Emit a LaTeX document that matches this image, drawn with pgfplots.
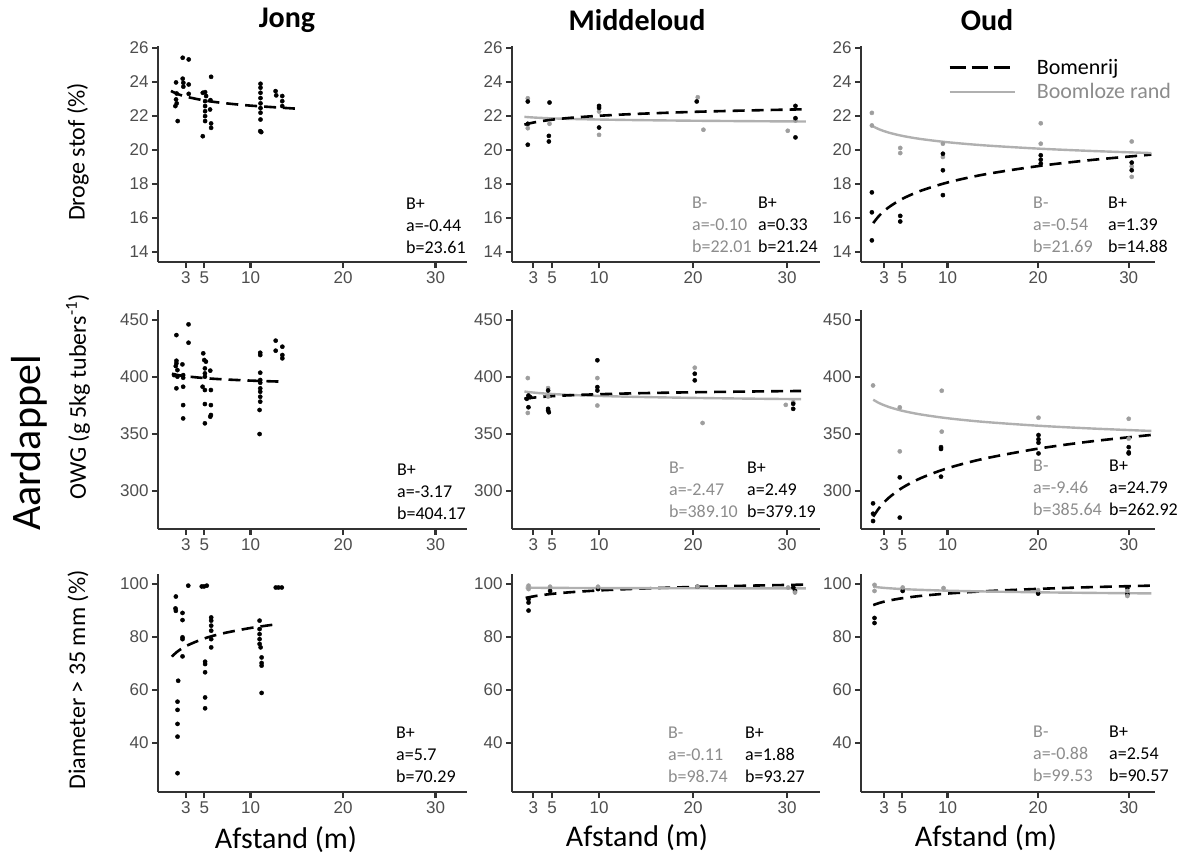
\documentclass[border=0pt]{standalone}
\usepackage{fontspec}
\setmainfont{Carlito}
\newfontfamily\tickfont{Liberation Sans}
\usepackage{pgfplots}
\pgfplotsset{compat=1.18}
\definecolor{axisc}{HTML}{333333}
\definecolor{tickc}{HTML}{4D4D4D}
\definecolor{ptgrey}{HTML}{9E9E9E}
\definecolor{linegrey}{HTML}{B0B0B0}
\definecolor{textgrey}{HTML}{8C8C8C}

\pgfplotsset{
  panel/.style={scale only axis, anchor=south west,
    axis x line*=bottom, axis y line*=left,
    axis line style={line width=1.6pt, color=axisc, -},
    tick style={line width=2.2pt, color=axisc},
    tick align=outside, major tick length=6pt,
    xtick={3,5,10,20,30},
    ticklabel style={font=\tickfont\fontsize{17}{17}\selectfont, text=tickc},
    /pgf/number format/assume math mode=true,
    clip=false},
  row1/.style={height=216pt, ymin=13.41, ymax=26.1, ytick={14,16,...,26}},
  row2/.style={height=219pt, ymin=266.7, ymax=458.8, ytick={300,350,400,450}},
  row3/.style={height=218pt, ymin=21.5, ymax=103.8, ytick={40,60,80,100}},
  colJ/.style={width=309pt, xmin=0, xmax=33.4},
  colM/.style={width=308pt, xmin=0.74, xmax=33.5},
  colO/.style={width=294pt, xmin=0.45, xmax=32.9},
  pts/.style={only marks, mark=*, mark size=2.1pt, black, forget plot},
  gpts/.style={only marks, mark=*, mark size=2.1pt, color=ptgrey, mark options={draw=ptgrey, fill=ptgrey}, forget plot},
  fitB/.style={no marks, smooth, line width=2.6pt, dash pattern=on 12pt off 7pt, black},
  fitG/.style={no marks, smooth, line width=2.4pt, color=linegrey},
  legB/.style={legend image code/.code={\draw[##1, dash pattern=on 16pt off 6pt] (0pt,0pt) -- (65pt,0pt);}},
  legG/.style={legend image code/.code={\draw[##1] (0pt,0pt) -- (65pt,0pt);}},
}

\newcommand{\annfont}{\fontsize{18}{18}\selectfont}
% three-line annotation: x, y of first line, colour, lines
\newcommand{\ann}[6]{%
  \node[anchor=west, inner sep=0pt, text=#3, font=\annfont] at (#1pt,-#2pt) {#4};
  \node[anchor=west, inner sep=0pt, text=#3, font=\annfont] at (#1pt,-#2pt-21.5pt) {#5};
  \node[anchor=west, inner sep=0pt, text=#3, font=\annfont] at (#1pt,-#2pt-43pt) {#6};}

\begin{document}
\begin{tikzpicture}
\useasboundingbox (0pt,0pt) rectangle (1187pt,-856pt);

% ---------------- row 1: Droge stof ----------------
\begin{axis}[panel, row1, colJ, at={(158pt,-262pt)}]
  \addplot[pts] coordinates {(1.95,23.96)(2.02,23.31)(1.95,22.96)(2.02,22.73)(1.88,22.57)(2.13,21.69)
    (2.67,25.41)(3.32,25.31)(2.67,24.18)(2.74,23.94)(2.74,23.71)(3.32,23.84)(3.32,23.29)
    (4.84,23.35)(5.09,23.39)(5.2,23.16)(5.09,22.86)(5.09,22.57)(5.09,22.27)(5.09,21.98)(5.09,21.69)(4.84,20.80)
    (5.74,24.29)(5.67,22.92)(5.63,22.37)(5.74,21.55)(5.74,21.29)
    (11.08,23.88)(11.08,23.65)(11.08,23.35)(11.08,23.04)(11.08,22.73)(11.08,22.45)(11.08,22.18)(11.08,21.78)(11.05,21.10)(11.16,21.04)
    (12.71,23.45)(12.78,23.20)(13.43,23.16)(13.43,22.86)(13.43,22.57)};
  \addplot[fitB] coordinates {(1.4,23.462)(2,23.305)(3,23.127)(5,22.902)(7,22.754)(10,22.597)(14.8,22.424)};
\end{axis}

\begin{axis}[panel, row1, colM, at={(512pt,-262pt)}]
  \addplot[gpts] coordinates {(2.42,23.03)(2.42,21.27)(4.73,21.53)(10,22.25)(10,20.88)(20.5,23.09)(21.1,21.18)(30.07,21.12)(30.89,21.72)};
  \addplot[pts] coordinates {(2.42,22.84)(2.42,21.53)(2.42,20.30)(4.73,22.78)(4.66,20.82)(4.66,20.49)
    (10,22.58)(10,22.46)(10,21.31)(20.39,22.84)(30.89,22.58)(30.89,21.86)(30.89,20.73)};
  \addplot[fitG] coordinates {(2.06,21.938)(2.5,21.918)(3.5,21.885)(5,21.849)(7,21.815)(10,21.780)(14,21.746)(20,21.710)(26,21.684)(32,21.663)};
  \addplot[fitB] coordinates {(2.06,21.479)(2.5,21.542)(3.5,21.653)(5,21.771)(7,21.882)(10,22.000)(14,22.111)(20,22.229)(26,22.315)(32,22.384)};
\end{axis}

\begin{axis}[panel, row1, colO, at={(861pt,-262pt)},
  legend style={at={(axis description cs:0.296,0.95)}, anchor=north west, draw=none, fill=none,
    font=\fontsize{22}{22}\selectfont, row sep=4pt, inner sep=0pt},
  legend cell align=left]
  \addplot[gpts] coordinates {(1.65,22.17)(1.65,21.43)(4.78,20.11)(4.78,19.81)(9.49,20.36)(9.49,19.58)
    (20.29,21.56)(20.29,20.36)(30.33,20.49)(30.33,18.41)(30.33,19.03)};
  \addplot[pts] coordinates {(1.65,17.50)(1.65,16.33)(1.65,14.68)(4.78,16.12)(4.78,15.79)
    (9.49,19.77)(9.49,18.80)(9.49,17.34)(20.29,19.68)(20.29,19.42)(20.29,19.19)(30.33,19.25)(30.33,18.80)};
  \addplot[fitB, legB] coordinates {(1.8,15.697)(2.5,16.154)(3.5,16.621)(5,17.117)(7,17.585)(10,18.081)(14,18.548)(20,19.044)(26,19.409)(32.5,19.719)};
  \addlegendentry{\hspace*{19pt}Bomenrij}
  \addplot[fitG, legG] coordinates {(1.8,21.373)(2.5,21.195)(3.5,21.013)(5,20.821)(7,20.639)(10,20.447)(14,20.265)(20,20.072)(26,19.931)(32.5,19.810)};
  \addlegendentry{\hspace*{19pt}\textcolor{textgrey}{Boomloze rand}}
\end{axis}

% ---------------- row 2: OWG ----------------
\begin{axis}[panel, row2, colJ, at={(158pt,-529pt)}]
  \addplot[pts] coordinates {(1.99,436.8)(3.30,446.2)(3.30,430.1)(1.99,414.3)(1.99,412.0)(1.92,409.6)(2.10,406.1)(1.74,401.7)(2.10,400.3)
    (2.64,411.1)(2.72,401.7)(2.72,399.4)(1.99,390.1)(2.72,391.5)(2.72,375.4)(2.72,363.7)
    (4.89,420.8)(5.0,414.9)(5.18,413.5)(5.07,407.6)(5.07,403.2)(5.07,400.3)(5.65,405.6)(4.82,391.5)(5.07,388.6)(5.72,388.6)
    (5.07,376.3)(5.72,375.4)(5.65,365.2)(5.72,366.7)(5.07,359.4)
    (11.05,421.3)(11.05,419.3)(11.05,403.8)(11.05,397.4)(11.05,395.0)(11.05,390.1)(11.05,387.1)(11.05,382.7)(11.05,378.4)(10.98,371.1)(10.98,350.0)
    (12.72,431.9)(12.72,423.1)(13.44,426.6)(13.44,419.3)(13.44,416.4)};
  \addplot[fitB] coordinates {(1.5,402.88)(2,401.97)(3,400.69)(5,399.07)(7,398.00)(10,396.87)(13.4,395.94)};
\end{axis}

\begin{axis}[panel, row2, colM, at={(512pt,-529pt)}]
  \addplot[gpts] coordinates {(2.42,399.1)(2.42,368.5)(4.58,390.3)(4.58,382.9)(9.82,399.1)(9.82,375.0)(20.18,408.2)(21.01,359.7)(29.86,375.6)(30.65,377.9)};
  \addplot[pts] coordinates {(2.49,383.8)(2.31,380.9)(2.67,382.4)(2.49,373.5)(4.58,370.6)(4.66,369.1)(4.58,372.1)(4.58,388.2)
    (9.82,414.7)(9.82,391.2)(9.82,388.2)(20.18,402.9)(20.18,397.1)(30.65,376.5)(30.65,372.1)};
  \addplot[fitG] coordinates {(2.06,387.31)(2.5,386.84)(3.5,386.01)(5,385.12)(7,384.29)(10,383.41)(14,382.58)(20,381.70)(26,381.05)(31.5,380.58)};
  \addplot[fitB] coordinates {(2.06,380.99)(2.5,381.47)(3.5,382.31)(5,383.20)(7,384.04)(10,384.92)(14,385.76)(20,386.65)(26,387.30)(31.5,387.78)};
\end{axis}

\begin{axis}[panel, row2, colO, at={(861pt,-529pt)}]
  \addplot[gpts] coordinates {(1.78,392.6)(4.73,373.4)(4.73,334.8)(9.36,388.0)(9.36,352.1)(20.04,364.3)(30.0,363.4)(30.0,346.0)};
  \addplot[pts] coordinates {(1.78,289.2)(1.78,280.1)(1.78,273.7)(4.73,312.0)(4.73,276.7)(9.28,338.5)(9.28,336.9)(9.28,312.6)
    (20.04,349.1)(20.04,345.4)(20.04,342.4)(20.04,333.0)(30.0,338.5)(30.0,333.9)(30.0,333.0)};
  \addplot[fitG] coordinates {(1.8,380.08)(2.5,376.97)(3.5,373.79)(5,370.41)(7,367.23)(10,363.86)(14,360.67)(20,357.30)(26,354.82)(32.5,352.71)};
  \addplot[fitB] coordinates {(1.8,277.49)(2.5,285.63)(3.5,293.98)(5,302.82)(7,311.16)(10,320.00)(14,328.34)(20,337.18)(26,343.69)(32.5,349.22)};
\end{axis}

% ---------------- row 3: Diameter ----------------
\begin{axis}[panel, row3, colJ, at={(158pt,-792pt)}]
  \addplot[pts] coordinates {(1.93,95.3)(1.89,90.8)(1.93,89.9)(3.27,99.4)(2.65,89.1)(2.65,86.4)(2.65,79.9)(2.65,79.2)(2.65,72.7)
    (2.18,63.5)(2.11,55.6)(2.11,52.5)(2.11,47.2)(2.11,42.4)(2.11,28.6)
    (4.73,99.1)(4.98,99.1)(5.27,99.4)(5.75,87.4)(5.75,86.2)(5.75,84.3)(5.75,82.4)(5.75,79.2)(5.75,76.1)
    (5.09,70.7)(5.09,69.8)(5.09,66.7)(5.09,57.2)(5.09,53.1)
    (10.98,86.2)(10.98,83.0)(10.98,81.1)(10.98,79.2)(10.98,77.4)(11.09,76.1)(11.2,72.3)(11.2,70.2)(11.2,69.2)(11.2,58.9)
    (12.73,98.7)(13.02,98.7)(13.38,98.7)};
  \addplot[fitB] coordinates {(1.5,72.60)(2,74.24)(3,76.55)(5,79.46)(7,81.38)(10,83.42)(13,84.91)};
\end{axis}

\begin{axis}[panel, row3, colM, at={(512pt,-792pt)}]
  \addplot[pts] coordinates {(2.50,94.3)(2.50,93.0)(2.50,90.0)(4.79,97.4)(9.89,98.1)(20.46,99.0)(30.66,98.7)(30.84,97.4)};
  \addplot[gpts] coordinates {(2.50,99.4)(2.50,98.1)(4.79,99.0)(9.89,99.0)(20.46,99.0)(30.11,98.7)(30.84,96.8)};
  \addplot[fitB] coordinates {(2.2,94.75)(2.5,94.99)(3.5,95.63)(5,96.30)(7,96.93)(10,97.60)(14,98.23)(20,98.90)(26,99.40)(32,99.79)};
  \addplot[fitG] coordinates {(2.2,98.65)(2.5,98.64)(3.5,98.60)(5,98.56)(7,98.53)(10,98.49)(14,98.45)(20,98.41)(26,98.38)(32,98.36)};
\end{axis}

\begin{axis}[panel, row3, colO, at={(861pt,-792pt)}]
  \addplot[pts] coordinates {(1.94,87.2)(1.94,85.3)(5.05,97.4)(20.0,96.4)(29.85,98.5)(29.85,96.2)};
  \addplot[gpts] coordinates {(1.94,99.7)(1.94,97.4)(5.05,98.7)(9.56,98.5)(20.0,97.7)(29.85,97.4)(29.85,95.5)};
  \addplot[fitB] coordinates {(1.8,92.06)(2.5,92.90)(3.5,93.75)(5,94.66)(7,95.51)(10,96.42)(14,97.27)(20,98.18)(26,98.85)(32.5,99.41)};
  \addplot[fitG] coordinates {(1.8,99.01)(2.5,98.72)(3.5,98.43)(5,98.11)(7,97.82)(10,97.50)(14,97.21)(20,96.89)(26,96.66)(32.5,96.47)};
\end{axis}

% ---------------- annotations ----------------
\ann{406}{204}{black}{B+}{a=-0.44}{b=23.61}
\ann{397}{470}{black}{B+}{a=-3.17}{b=404.17}
\ann{396}{733}{black}{B+}{a=5.7}{b=70.29}
\ann{692}{203}{textgrey}{B-}{a=-0.10}{b=22.01}
\ann{758}{203}{black}{B+}{a=0.33}{b=21.24}
\ann{669}{468}{textgrey}{B-}{a=-2.47}{b=389.10}
\ann{747}{468}{black}{B+}{a=2.49}{b=379.19}
\ann{668}{733}{textgrey}{B-}{a=-0.11}{b=98.74}
\ann{745}{733}{black}{B+}{a=1.88}{b=93.27}
\ann{1033}{203}{textgrey}{B-}{a=-0.54}{b=21.69}
\ann{1108}{203}{black}{B+}{a=1.39}{b=14.88}
\ann{1033}{466}{textgrey}{B-}{a=-9.46}{b=385.64}
\ann{1109}{466}{black}{B+}{a=24.79}{b=262.92}
\ann{1033}{732}{textgrey}{B-}{a=-0.88}{b=99.53}
\ann{1109}{732}{black}{B+}{a=2.54}{b=90.57}

% ---------------- titles and labels ----------------
\node[font=\bfseries\fontsize{30}{30}\selectfont] at (287pt,-20pt) {Jong};
\node[font=\bfseries\fontsize{30}{30}\selectfont] at (637pt,-20pt) {Middeloud};
\node[font=\bfseries\fontsize{30}{30}\selectfont] at (987pt,-20pt) {Oud};
\node[font=\fontsize{30}{30}\selectfont] at (286pt,-840pt) {Afstand (m)};
\node[font=\fontsize{30}{30}\selectfont] at (637pt,-838pt) {Afstand (m)};
\node[font=\fontsize{30}{30}\selectfont] at (986pt,-838pt) {Afstand (m)};
\node[rotate=90, font=\fontsize{24}{24}\selectfont] at (78pt,-152pt) {Droge stof (\%)};
\node[rotate=90, font=\fontsize{24}{24}\selectfont] at (78pt,-397pt) {OWG (g 5kg tubers\textsuperscript{-1})};
\node[rotate=90, font=\fontsize{24}{24}\selectfont] at (78pt,-680pt) {Diameter > 35 mm (\%)};
\node[rotate=90, font=\fontsize{42}{42}\selectfont] at (29pt,-443pt) {Aardappel};
\end{tikzpicture}
\end{document}
